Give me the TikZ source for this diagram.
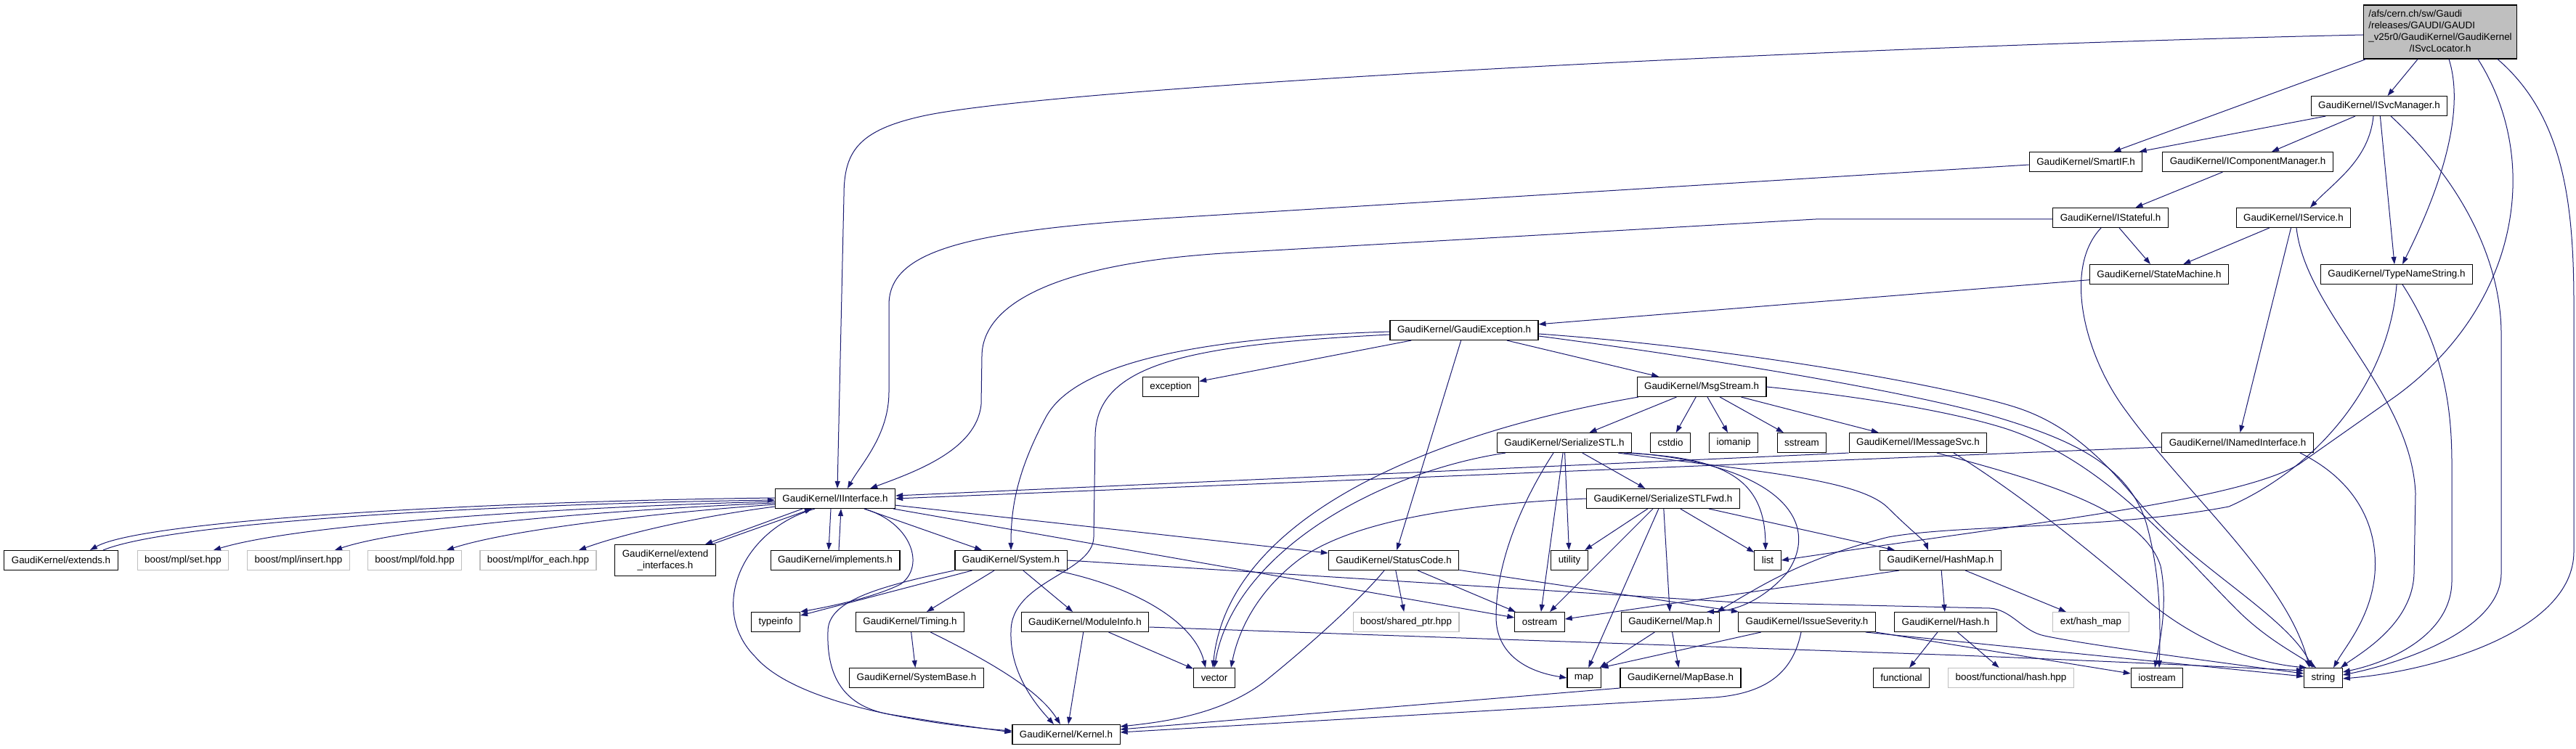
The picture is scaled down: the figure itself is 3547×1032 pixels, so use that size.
\documentclass[tikz,border=0pt]{standalone}
\usepackage{fontspec}
\setmainfont{Liberation Sans}
\usepackage{tikz}
\usetikzlibrary{arrows.meta}
\definecolor{edgeblue}{HTML}{191970}
\definecolor{boxgray}{HTML}{BFBFBF}

\tikzset{
  hdr/.style={draw=black, line width=1.1pt, fill=white, minimum height=27pt, inner xsep=10pt, inner ysep=4pt, font=\fontsize{13.4}{16}\selectfont},
  syshdr/.style={hdr, draw=boxgray},
  dep/.style={draw=edgeblue, line width=1pt, -{Triangle[length=10pt,width=7pt]}}
}

\begin{document}
\begin{tikzpicture}[x=1pt, y=-1pt]
\useasboundingbox (0,0) rectangle (3547,1032);
% draws headers
\node[hdr, fill=boxgray, inner xsep=7pt, inner ysep=5pt] (root) at (3360,44) {\begin{tabular}{@{}l@{}}/afs/cern.ch/sw/Gaudi\\/releases/GAUDI/GAUDI\\\_v25r0/GaudiKernel/GaudiKernel\\\multicolumn{1}{@{}c@{}}{/ISvcLocator.h}\end{tabular}};
\node[hdr] (svcmgr) at (3276,146) {GaudiKernel/ISvcManager.h};
\node[hdr] (smartif) at (2872,223) {GaudiKernel/SmartIF.h};
\node[hdr] (compmgr) at (3095,223) {GaudiKernel/IComponentManager.h};
\node[hdr] (stateful) at (2906,300) {GaudiKernel/IStateful.h};
\node[hdr] (service) at (3158,300) {GaudiKernel/IService.h};
\node[hdr] (statemach) at (2973,378) {GaudiKernel/StateMachine.h};
\node[hdr] (typename) at (3300,378) {GaudiKernel/TypeNameString.h};
\node[hdr] (gexcept) at (2016,455) {GaudiKernel/GaudiException.h};
\node[hdr] (exception) at (1612,533) {exception};
\node[hdr] (msgstream) at (2343,533) {GaudiKernel/MsgStream.h};
\node[hdr] (sstl) at (2154,610) {GaudiKernel/SerializeSTL.h};
\node[hdr] (cstdio) at (2300,610) {cstdio};
\node[hdr] (iomanip) at (2387,610) {iomanip};
\node[hdr] (sstream) at (2481,610) {sstream};
\node[hdr] (imsgsvc) at (2641,610) {GaudiKernel/IMessageSvc.h};
\node[hdr] (inamed) at (3081,610) {GaudiKernel/INamedInterface.h};
\node[hdr] (iiface) at (1150,687) {GaudiKernel/IInterface.h};
\node[hdr] (sstlfwd) at (2290,687) {GaudiKernel/SerializeSTLFwd.h};
\node[hdr] (extends) at (84,772) {GaudiKernel/extends.h};
\node[syshdr] (mplset) at (252,772) {boost/mpl/set.hpp};
\node[syshdr] (mplinsert) at (411,772) {boost/mpl/insert.hpp};
\node[syshdr] (mplfold) at (571,772) {boost/mpl/fold.hpp};
\node[syshdr] (mplforeach) at (741,772) {boost/mpl/for\_each.hpp};
\node[hdr, align=center, minimum height=43pt] (extifaces) at (916,772) {GaudiKernel/extend\\\_interfaces.h};
\node[hdr] (implements) at (1150,772) {GaudiKernel/implements.h};
\node[hdr] (system) at (1392,772) {GaudiKernel/System.h};
\node[hdr] (statuscode) at (1919,772) {GaudiKernel/StatusCode.h};
\node[hdr] (utility) at (2161,772) {utility};
\node[hdr] (list) at (2434,772) {list};
\node[hdr] (hashmap) at (2672,772) {GaudiKernel/HashMap.h};
\node[hdr] (typeinfo) at (1068,857) {typeinfo};
\node[hdr] (timing) at (1253,857) {GaudiKernel/Timing.h};
\node[hdr] (moduleinfo) at (1494,857) {GaudiKernel/ModuleInfo.h};
\node[syshdr] (sharedptr) at (1936,857) {boost/shared\_ptr.hpp};
\node[hdr] (ostream) at (2120,857) {ostream};
\node[hdr] (mapH) at (2300,857) {GaudiKernel/Map.h};
\node[hdr] (issue) at (2488,857) {GaudiKernel/IssueSeverity.h};
\node[hdr] (hash) at (2679,857) {GaudiKernel/Hash.h};
\node[syshdr] (hashmapext) at (2879,857) {ext/hash\_map};
\node[hdr] (systembase) at (1262,934) {GaudiKernel/SystemBase.h};
\node[hdr] (vector) at (1672,934) {vector};
\node[hdr] (map) at (2181,934) {map};
\node[hdr] (mapbase) at (2314,934) {GaudiKernel/MapBase.h};
\node[hdr] (functional) at (2618,934) {functional};
\node[syshdr] (boosthash) at (2769,934) {boost/functional/hash.hpp};
\node[hdr] (iostream) at (2970,934) {iostream};
\node[hdr] (string) at (3199,934) {string};
\node[hdr] (kernel) at (1468,1012) {GaudiKernel/Kernel.h};
% draws includes of ISvcLocator.h
\draw[dep] ([yshift=-4pt]root.west) .. controls (2500,65) and (1450,120) .. (1270,160) .. controls (1180,180) and (1162,210) .. (1162,270) -- ([xshift=3pt]iiface.north);
\draw[dep] (root) -- (smartif);
\draw[dep] (root) -- (svcmgr);
\draw[dep] ([xshift=12pt]root.south) .. controls (3400,170) and (3340,300) .. ([xshift=8pt]typename.north);
\draw[dep] ([xshift=52pt]root.south) .. controls (3500,220) and (3470,420) .. (3300,545) -- (3165,640) .. controls (3080,690) and (2800,720) .. (list.east);
\draw[dep] ([xshift=79pt]root.south) .. controls (3530,160) and (3544,280) .. (3544,420) -- (3544,760) .. controls (3544,870) and (3350,925) .. ([yshift=-1pt]string.east);
% draws includes of the upper headers
\draw[dep] (svcmgr) -- (smartif);
\draw[dep] (svcmgr) -- (compmgr);
\draw[dep] ([xshift=-8pt]svcmgr.south) .. controls (3262,220) and (3215,250) .. ([xshift=23pt]service.north);
\draw[dep] (svcmgr) -- ([xshift=-3pt]typename.north);
\draw[dep] ([xshift=16pt]svcmgr.south) .. controls (3390,250) and (3444,360) .. (3444,460) -- (3444,790) .. controls (3444,870) and (3300,915) .. ([yshift=4pt]string.east);
\draw[dep] ([yshift=-4pt]smartif.west) -- (1615,300) .. controls (1330,318) and (1224,345) .. (1224,420) -- (1224,540) .. controls (1224,600) and (1185,640) .. ([xshift=17pt]iiface.north);
\draw[dep] (compmgr) -- (stateful);
\draw[dep] ([yshift=-2pt]stateful.west) -- (2500,302) -- (1700,348) .. controls (1450,362) and (1353,420) .. (1352,490) -- (1351,557) .. controls (1345,620) and (1260,650) .. ([xshift=-35pt]iiface.north east);
\draw[dep] (stateful) -- (statemach);
\draw[dep] ([xshift=-13pt]stateful.south) .. controls (2840,370) and (2870,490) .. (2928,567) .. controls (3010,680) and (3150,800) .. ([xshift=-19pt]string.north);
\draw[dep] (service) -- (statemach);
\draw[dep] (service) -- (inamed);
\draw[dep] ([xshift=4pt]service.south) .. controls (3175,430) and (3320,540) .. (3326,680) -- (3324,790) .. controls (3322,860) and (3250,900) .. ([xshift=24pt]string.north);
\draw[dep] (statemach) -- (gexcept);
\draw[dep] ([xshift=8pt]typename.south) .. controls (3365,480) and (3376,560) .. (3376,640) -- (3376,800) .. controls (3376,870) and (3300,910) .. ([yshift=8pt]string.east);
\draw[dep] (typename.south) .. controls (3290,520) and (3200,640) .. (3069,698) .. controls (2900,730) and (2700,722) .. (2600,740) .. controls (2480,770) and (2420,810) .. ([xshift=-4pt]mapH.north east);
% draws includes of GaudiException.h and MsgStream.h
\draw[dep] ([yshift=-2pt]gexcept.west) .. controls (1650,465) and (1480,500) .. (1440,575) .. controls (1400,650) and (1392,700) .. (system.north);
\draw[dep] ([yshift=-6pt]gexcept.west) .. controls (1640,475) and (1510,500) .. (1508,600) -- (1506,740) .. controls (1505,790) and (1392,800) .. (1392,870) .. controls (1390,930) and (1430,975) .. ([xshift=-17pt]kernel.north);
\draw[dep] (gexcept) -- (exception);
\draw[dep] (gexcept) -- (statuscode);
\draw[dep] (gexcept) -- (msgstream);
\draw[dep] ([yshift=-5pt]gexcept.east) .. controls (2400,480) and (2700,535) .. (2781,563) .. controls (2860,590) and (2910,650) .. (2950,698) .. controls (3020,780) and (3150,850) .. ([xshift=-15pt]string.north);
\draw[dep] ([yshift=-8pt]gexcept.east) .. controls (2400,500) and (2650,545) .. (2750,575) .. controls (2850,605) and (2930,640) .. (2955,720) .. controls (2975,790) and (2975,860) .. ([xshift=3pt]iostream.north);
\draw[dep] ([xshift=-87pt]msgstream.south) .. controls (1950,600) and (1690,720) .. ([xshift=-2pt]vector.north);
\draw[dep] (msgstream) -- (sstl);
\draw[dep] (msgstream) -- (cstdio);
\draw[dep] (msgstream) -- (iomanip);
\draw[dep] (msgstream) -- (sstream);
\draw[dep] (msgstream) -- (imsgsvc);
\draw[dep] (msgstream.east) .. controls (2550,545) and (2680,565) .. (2760,590) .. controls (2900,635) and (3000,760) .. (3080,840) .. controls (3120,880) and (3160,900) .. ([xshift=-10pt]string.north);
\draw[dep] (imsgsvc.south west) -- ([yshift=4pt]iiface.east);
\draw[dep] ([xshift=26pt]imsgsvc.south) .. controls (2800,660) and (2950,700) .. (2975,780) .. controls (2985,830) and (2975,880) .. ([xshift=-3pt]iostream.north);
\draw[dep] ([xshift=49pt]imsgsvc.south) .. controls (2780,680) and (2880,760) .. (2960,830) .. controls (3040,895) and (3120,915) .. ([xshift=4pt]string.north west);
\draw[dep] ([yshift=-6pt]inamed.west) -- (iiface.east);
\draw[dep] ([xshift=86pt]inamed.south) .. controls (3240,660) and (3275,720) .. (3270,790) .. controls (3265,850) and (3230,890) .. ([xshift=14pt]string.north);
% draws includes of IInterface.h
\draw[dep] ([yshift=1pt]iiface.west) .. controls (700,690) and (200,715) .. ([xshift=40pt]extends.north);
\draw[dep] ([xshift=58pt]extends.north) .. controls (240,718) and (700,694) .. ([yshift=-2pt]iiface.west);
\draw[dep] ([yshift=-4pt]iiface.west) .. controls (800,698) and (420,720) .. ([xshift=42pt]mplset.north);
\draw[dep] ([yshift=-6pt]iiface.west) .. controls (850,702) and (560,725) .. ([xshift=50pt]mplinsert.north);
\draw[dep] ([yshift=-8pt]iiface.west) .. controls (900,707) and (700,730) .. ([xshift=44pt]mplfold.north);
\draw[dep] ([yshift=-11pt]iiface.west) .. controls (960,712) and (860,735) .. ([xshift=56pt]mplforeach.north);
\draw[dep] ([xshift=-45pt]iiface.south) -- ([xshift=55pt]extifaces.north);
\draw[dep] ([xshift=64pt]extifaces.north) -- ([xshift=-32pt]iiface.south);
\draw[dep] ([xshift=-6pt]iiface.south) -- ([xshift=-9pt]implements.north);
\draw[dep] ([xshift=5pt]implements.north) -- ([xshift=8pt]iiface.south);
\draw[dep] (iiface) -- (system);
\draw[dep] (iiface) -- (statuscode);
\draw[dep] (iiface) -- (ostream);
\draw[dep] ([xshift=40pt]iiface.south) .. controls (1255,720) and (1275,780) .. (1240,805) .. controls (1200,825) and (1130,838) .. (typeinfo.north east);
\draw[dep] ([xshift=-28pt]iiface.south) .. controls (1020,730) and (975,840) .. (1040,905) .. controls (1100,975) and (1300,1000) .. ([yshift=5pt]kernel.west);
% draws includes of System.h and its row
\draw[dep] (system) -- (typeinfo);
\draw[dep] (system) -- (timing);
\draw[dep] (system) -- (moduleinfo);
\draw[dep] ([xshift=62pt]system.south) .. controls (1570,810) and (1645,860) .. ([xshift=-12pt]vector.north);
\draw[dep] ([xshift=-78pt]system.south) .. controls (1200,810) and (1140,830) .. (1140,870) .. controls (1138,930) and (1160,975) .. (1230,985) .. controls (1290,995) and (1350,1003) .. ([yshift=3pt]kernel.west);
\draw[dep] (system.east) -- (2391,830) -- (2740,838) .. controls (2770,840) and (2785,870) .. (2815,876) .. controls (2870,888) and (3050,912) .. ([yshift=6pt]string.west);
\draw[dep] (timing) -- (systembase);
\draw[dep] (timing) .. controls (1360,910) and (1430,950) .. ([xshift=-8pt]kernel.north);
\draw[dep] (moduleinfo) -- ([xshift=3pt]kernel.north);
\draw[dep] (moduleinfo) -- (vector);
\draw[dep] ([yshift=-7pt]moduleinfo.east) -- (2700,903) .. controls (2850,909) and (3050,918) .. ([yshift=10pt]string.west);
\draw[dep] (statuscode) -- (sharedptr);
\draw[dep] (statuscode) -- (ostream);
\draw[dep] ([xshift=-13pt]statuscode.south) .. controls (1870,830) and (1790,900) .. (1740,940) .. controls (1680,985) and (1600,995) .. ([yshift=11pt]kernel.east);
\draw[dep] (statuscode) -- (issue);
% draws includes of the STL helpers
\draw[dep] (sstl) -- (sstlfwd);
\draw[dep] (sstl) -- (utility);
\draw[dep] (sstl) -- (ostream);
\draw[dep] ([xshift=-15pt]sstl.south) .. controls (2090,700) and (2060,780) .. (2060,850) .. controls (2060,900) and (2100,925) .. (map.west);
\draw[dep] ([xshift=-81pt]sstl.south) .. controls (1900,650) and (1700,760) .. (vector.north);
\draw[dep] ([xshift=82pt]sstl.south) .. controls (2360,630) and (2430,650) .. ([xshift=-3pt]list.north);
\draw[dep] (sstl.south east) .. controls (2450,640) and (2510,720) .. (2460,790) .. controls (2420,835) and (2380,842) .. ([xshift=50pt]mapH.north);
\draw[dep] ([xshift=74pt]sstl.south) .. controls (2420,650) and (2560,660) .. (2600,700) .. controls (2630,730) and (2650,745) .. ([xshift=-17pt]hashmap.north);
\draw[dep] (sstlfwd.west) .. controls (2000,695) and (1860,720) .. (1790,770) .. controls (1730,815) and (1705,870) .. ([xshift=23pt]vector.north);
\draw[dep] (sstlfwd) -- (utility);
\draw[dep] (sstlfwd) -- (ostream);
\draw[dep] (sstlfwd) -- (map);
\draw[dep] (sstlfwd) -- (mapH);
\draw[dep] (sstlfwd) -- (list);
\draw[dep] (sstlfwd) -- (hashmap);
\draw[dep] ([xshift=-57pt]hashmap.south) -- ([yshift=4pt]ostream.east);
\draw[dep] (hashmap) -- (hash);
\draw[dep] (hashmap) -- (hashmapext);
\draw[dep] (hash) -- (functional);
\draw[dep] (hash) -- (boosthash);
\draw[dep] (mapH) -- (map);
\draw[dep] (mapH) -- (mapbase);
\draw[dep] (mapbase.south west) -- ([yshift=7pt]kernel.east);
\draw[dep] (issue) -- (map.north east);
\draw[dep] ([xshift=-8pt]issue.south) .. controls (2470,920) and (2440,955) .. (2360,961) -- ([yshift=3pt]kernel.east);
\draw[dep] ([xshift=-14pt]issue.south east) -- ([yshift=2pt]string.west);
\draw[dep] (issue.south east) -- ([yshift=6pt]iostream.west);
\end{tikzpicture}
\end{document}
